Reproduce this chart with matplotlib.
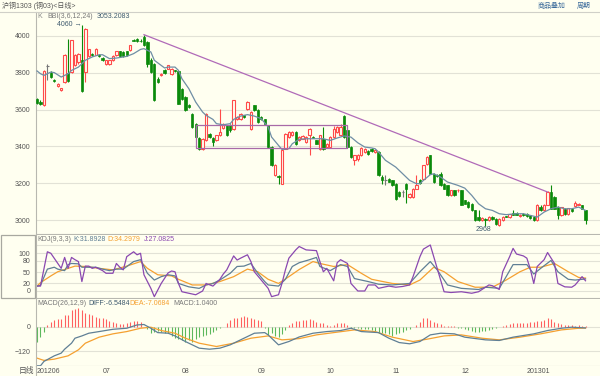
import matplotlib
matplotlib.use('Agg')
import matplotlib.pyplot as plt
from matplotlib.patches import Rectangle
import numpy as np

plt.rcParams['font.family'] = ['Liberation Sans', 'Noto Sans CJK SC', 'DejaVu Sans']

# ---- daily candles ----
opens = [3659, 3642, 3627, 3838, 3800, 3759, 3728, 3708, 3750, 3799,
         3804, 3840, 3858, 3868, 3804, 3891, 3900, 3898, 3898, 3880,
         3846, 3850, 3871, 3895, 3916, 3912, 3916, 3925, 3978, 3985,
         3975, 3995, 3967, 3868, 3849, 3768, 3790, 3813, 3822, 3795,
         3813, 3808, 3710, 3668, 3627, 3578, 3524, 3446, 3388, 3433,
         3469, 3446, 3433, 3460, 3500, 3514, 3518, 3496, 3547, 3551,
         3569, 3605, 3496, 3623, 3600, 3560, 3547, 3514, 3397, 3245,
         3242, 3198, 3388, 3451, 3460, 3478, 3433, 3442, 3424, 3460,
         3451, 3433, 3388, 3442, 3397, 3397, 3451, 3478, 3460, 3565,
         3487, 3397, 3325, 3330, 3352, 3370, 3378, 3386, 3370, 3370,
         3234, 3216, 3225, 3216, 3198, 3153, 3153, 3198, 3125, 3125,
         3171, 3220, 3225, 3306, 3352, 3252, 3243, 3252, 3198, 3189,
         3135, 3162, 3162, 3162, 3108, 3099, 3090, 3053, 3017, 2999,
         3008, 2999, 3017, 3008, 2975, 2999, 3022, 3017, 3040, 3038,
         3020, 3035, 3035, 3026, 3017, 2999, 3072, 3053, 3084, 3153,
         3125, 3071, 3030, 3062, 3035, 3062, 3077, 3085, 3080, 3053]
highs = [3665, 3650, 3815, 3848, 3810, 3765, 3745, 3720, 3900, 3985,
         3980, 3900, 3910, 4060, 4045, 3930, 3905, 3932, 3902, 3885,
         3870, 3872, 3895, 3920, 3920, 3918, 3920, 3952, 3982, 3990,
         3985, 4007, 3975, 3878, 3855, 3775, 3800, 3818, 3845, 3825,
         3815, 3812, 3715, 3672, 3632, 3582, 3528, 3450, 3446, 3582,
         3474, 3450, 3464, 3605, 3527, 3518, 3522, 3655, 3566, 3582,
         3573, 3645, 3592, 3627, 3605, 3564, 3550, 3518, 3400, 3305,
         3246, 3384, 3474, 3482, 3482, 3482, 3455, 3460, 3455, 3500,
         3455, 3437, 3464, 3505, 3420, 3455, 3510, 3510, 3520, 3572,
         3492, 3400, 3356, 3360, 3396, 3392, 3382, 3390, 3385, 3374,
         3243, 3243, 3230, 3220, 3202, 3158, 3162, 3202, 3148, 3175,
         3245, 3225, 3300, 3346, 3356, 3256, 3248, 3262, 3202, 3193,
         3166, 3166, 3170, 3166, 3112, 3103, 3094, 3056, 3053, 3015,
         3012, 3020, 3022, 3012, 3012, 3022, 3025, 3035, 3055, 3042,
         3032, 3040, 3040, 3030, 3022, 3090, 3080, 3090, 3158, 3192,
         3130, 3075, 3071, 3066, 3068, 3066, 3105, 3095, 3084, 3056]
lows = [3630, 3625, 3620, 3760, 3770, 3748, 3722, 3702, 3745, 3750,
        3800, 3835, 3850, 3695, 3750, 3885, 3890, 3895, 3885, 3865,
        3840, 3845, 3865, 3890, 3885, 3885, 3890, 3920, 3970, 3965,
        3965, 3945, 3830, 3800, 3645, 3745, 3785, 3795, 3818, 3790,
        3805, 3628, 3650, 3590, 3610, 3500, 3445, 3382, 3382, 3428,
        3446, 3405, 3428, 3455, 3495, 3455, 3480, 3490, 3542, 3546,
        3555, 3600, 3490, 3590, 3528, 3542, 3518, 3392, 3292, 3240,
        3198, 3195, 3385, 3446, 3455, 3410, 3428, 3438, 3420, 3352,
        3445, 3412, 3383, 3383, 3392, 3392, 3446, 3474, 3455, 3446,
        3392, 3338, 3300, 3320, 3348, 3365, 3355, 3370, 3365, 3240,
        3198, 3190, 3205, 3185, 3110, 3125, 3125, 3095, 3120, 3120,
        3168, 3198, 3220, 3300, 3248, 3200, 3234, 3185, 3170, 3130,
        3130, 3130, 3155, 3080, 3086, 3068, 3050, 2995, 2995, 2995,
        2968, 2995, 2999, 2972, 2970, 2995, 3015, 3012, 3026, 3026,
        3016, 3022, 3018, 3008, 2995, 2995, 3050, 3048, 3080, 3058,
        3060, 3008, 3025, 3030, 3030, 3042, 3073, 3082, 3058, 2981]
closes = [3638, 3632, 3808, 3838, 3777, 3753, 3740, 3717, 3895, 3755,
          3976, 3895, 3904, 3699, 4040, 3927, 3895, 3927, 3890, 3870,
          3868, 3868, 3891, 3916, 3889, 3889, 3895, 3949, 3975, 3971,
          3970, 3950, 3849, 3804, 3650, 3750, 3795, 3800, 3840, 3822,
          3809, 3632, 3656, 3596, 3614, 3505, 3451, 3388, 3442, 3578,
          3451, 3424, 3460, 3478, 3523, 3460, 3487, 3650, 3562, 3578,
          3560, 3641, 3587, 3596, 3533, 3547, 3523, 3397, 3297, 3300,
          3236, 3379, 3469, 3478, 3478, 3415, 3451, 3456, 3451, 3496,
          3448, 3415, 3460, 3388, 3415, 3451, 3496, 3505, 3505, 3451,
          3397, 3343, 3352, 3356, 3392, 3388, 3360, 3375, 3382, 3243,
          3216, 3216, 3207, 3189, 3116, 3130, 3153, 3171, 3144, 3171,
          3189, 3202, 3297, 3342, 3252, 3207, 3238, 3189, 3171, 3135,
          3162, 3135, 3165, 3084, 3090, 3072, 3053, 2999, 2999, 3011,
          2999, 3017, 3005, 2978, 3008, 3017, 3019, 3035, 3030, 3030,
          3028, 3026, 3022, 3012, 2999, 3084, 3053, 3084, 3153, 3062,
          3062, 3030, 3071, 3035, 3066, 3049, 3095, 3090, 3062, 2999]

# BBI line
bbi_x = [0, 1, 2, 4, 5, 7, 9, 10, 12, 13, 14, 16, 18, 19, 21, 23, 26, 28, 30, 31, 33,
         34, 36, 37, 38, 40, 41, 42, 44, 46, 48, 49, 51, 52, 54, 56, 57, 59, 61, 63, 65,
         67, 68, 70, 71, 73, 74, 76, 78, 80, 83, 85, 87, 89, 91, 93, 95, 97, 98, 99, 101,
         104, 106, 108, 110, 111, 112, 114, 115, 117, 119, 122, 124, 126, 128, 130, 132,
         134, 136, 139, 141, 143, 145, 147, 149, 151, 153, 155, 157, 159]
bbi_y = [3810, 3795, 3786, 3804, 3801, 3777, 3795, 3813, 3831, 3849, 3868, 3886, 3898,
         3898, 3877, 3880, 3889, 3904, 3927, 3931, 3913, 3868, 3840, 3826, 3831, 3831,
         3813, 3768, 3714, 3641, 3587, 3569, 3547, 3524, 3518, 3524, 3547, 3565, 3573,
         3565, 3551, 3506, 3451, 3406, 3384, 3388, 3415, 3439, 3442, 3442, 3442, 3433,
         3446, 3457, 3451, 3420, 3397, 3392, 3388, 3370, 3325, 3288, 3252, 3216, 3198,
         3198, 3216, 3247, 3252, 3234, 3207, 3189, 3174, 3135, 3089, 3062, 3053, 3035,
         3030, 3035, 3035, 3026, 3017, 3044, 3062, 3071, 3062, 3062, 3071, 3053]

# KDJ(9,3,3)
k_x = [0, 1, 3, 5, 6, 8, 9, 10, 12, 13, 15, 17, 19, 21, 23, 25, 28, 30, 32, 34, 36, 38,
       40, 41, 44, 47, 49, 51, 53, 56, 58, 60, 62, 64, 66, 67, 70, 72, 74, 76, 79, 81, 82,
       85, 88, 90, 92, 96, 99, 103, 108, 111, 114, 116, 119, 123, 128, 130, 134, 136,
       138, 142, 144, 146, 149, 151, 154, 156, 159]
k_y = [13, 15, 58, 63, 58, 54, 70, 73, 72, 63, 63, 63, 58, 54, 58, 58, 78, 83, 47, 29,
       38, 43, 40, 20, 11, 7, 16, 20, 29, 47, 65, 66, 73, 47, 25, 16, 13, 31, 65, 75, 83,
       89, 65, 54, 70, 65, 33, 25, 18, 16, 20, 51, 78, 56, 16, 7, 4, 10, 7, 38, 70, 70,
       45, 60, 81, 51, 31, 29, 31.89]
d_x = [0, 1, 4, 6, 9, 11, 14, 18, 22, 26, 30, 32, 35, 39, 41, 45, 49, 53, 57, 61, 64,
       67, 70, 73, 76, 80, 82, 86, 90, 94, 97, 103, 108, 111, 115, 118, 122, 127, 132,
       136, 140, 143, 146, 150, 154, 157, 159]
d_y = [13, 22, 40, 51, 60, 66, 65, 60, 56, 66, 78, 60, 43, 40, 31, 16, 16, 25, 38, 58,
       51, 31, 20, 38, 57, 78, 73, 65, 70, 47, 31, 20, 16, 29, 63, 51, 25, 10, 10, 29,
       51, 63, 63, 73, 51, 36, 34.30]
j_x = [0, 1, 3, 4, 7, 8, 9, 10, 11, 12, 13, 14, 15, 16, 17, 19, 20, 22, 23, 24, 25, 26,
       28, 29, 30, 31, 33, 34, 36, 38, 39, 40, 41, 42, 44, 46, 48, 49, 51, 53, 54, 55,
       57, 58, 59, 61, 62, 63, 65, 67, 68, 70, 71, 72, 73, 75, 76, 78, 81, 82, 83, 84,
       86, 87, 88, 90, 91, 93, 95, 96, 98, 99, 101, 102, 104, 106, 108, 109, 111, 112,
       114, 115, 117, 118, 120, 123, 126, 128, 130, 131, 132, 134, 135, 137, 138, 139,
       141, 142, 143, 144, 145, 147, 148, 150, 151, 153, 155, 156, 158, 159]
j_y = [13, 13, 104, 100, 60, 89, 60, 89, 83, 78, 25, 66, 66, 60, 63, 54, 47, 47, 73, 63,
       56, 91, 104, 96, 100, 43, 7, -15, 20, 48, 53, 51, 20, -2, -6, -10, 0, 20, 13, 31,
       45, 56, 93, 82, 87, 96, 78, 51, 29, 7, -15, -10, 20, 56, 87, 109, 118, 109, 107,
       78, 51, 60, 27, 75, 83, 73, 20, 0, 0, 16, 16, 7, 11, 13, 10, 12, 16, 38, 91, 111,
       122, 91, 29, -2, -4, -2, -6, -2, 10, 16, 14, 4, 51, 91, 113, 98, 93, 87, 58, 20,
       65, 83, 102, 73, 20, 11, 10, 16, 38, 27.08]

# MACD(26,12,9)
diff_x = [0, 1, 2, 5, 7, 8, 10, 11, 13, 15, 18, 22, 26, 29, 31, 33, 35, 38, 40, 43, 47,
          50, 53, 56, 59, 63, 66, 67, 70, 73, 76, 80, 84, 88, 91, 94, 99, 102, 105, 108,
          111, 114, 117, 121, 124, 130, 134, 138, 144, 148, 152, 155, 159]
diff_y = [-189, -189, -168, -141, -128, -109, -80, -56, -45, -32, -24, -13, -8, 8, 10,
          -8, -29, -32, -45, -72, -104, -109, -104, -88, -64, -32, -29, -40, -88, -72,
          -50, -32, -24, -19, -8, -24, -29, -56, -77, -83, -72, -40, -32, -35, -51, -64,
          -67, -51, -35, -19, -8, -3, -6.55]
dea_x = [0, 2, 5, 9, 12, 14, 18, 22, 26, 30, 33, 36, 40, 43, 47, 52, 57, 62, 67, 71, 76,
         81, 86, 92, 98, 103, 109, 113, 118, 123, 129, 134, 140, 146, 152, 157, 159]
dea_y = [-152, -163, -157, -141, -112, -80, -51, -35, -24, -8, -3, -19, -32, -56, -80,
         -96, -80, -56, -45, -64, -58, -40, -29, -16, -24, -51, -72, -61, -45, -40, -56,
         -64, -51, -35, -16, -8, -7.07]
macd_hist = [-72, -48, -24, 8, 24, 32, 35, 35, 56, 56, 80, 83, 88, 80, 67, 61, 56, 45,
             40, 40, 35, 29, 24, 19, 13, 13, 16, 24, 29, 29, 24, 0, -13, -32, -24, -19,
             -24, -29, -29, -45, -56, -61, -67, -72, -64, -72, -61, -48, -45, -40, -35,
             -24, -16, -8, -3, 16, 32, 40, 40, 45, 51, 48, 40, 35, 32, 29, -8, -40, -32,
             -45, -48, -35, -16, 8, 19, 29,
             29, 32, 32, 35, 32, 24, 19, 16, 8, 3, 8, 19, 19, 19, 8, -8, -8, -8, -13,
             -13, -13, -16, -24, -29, -32, -32, -35, -45, -35, -32, -24, -16, -13, -3, 8,
             24, 40, 40, 32, 24, 19, 13, 3, 1, 1, 1, -5, -8, -13, -16, -19, -24, -24, -19,
             -19, -16, -13, -8, -3, 3, 8, 13, 16, 19, 16, 19, 19, 24, 24, 29, 29, 32, 40,
             35, 24, 16, 13, 8, 8, 8, 3, 6, 3, 1.04]

month_labels = ['201206', '07', '08', '09', '10', '11', '12', '201301']
month_pos = [0, 19, 42, 64, 84, 103, 123, 142]

# trend line and consolidation box
trend_pts = ([31, 148], [4007, 3153])
box_x = (46, 90)
box_y = (3390, 3515)

BG = '#fffff0'
GRID = '#e2e2d6'
TXT = '#555555'
UP = '#ff4a4a'
DOWN = '#0a8a0a'
BLUE = '#5f7f95'
ORANGE = '#f5a030'
PURPLE = '#8a48b0'
FS = 5.0

W, H = 600, 376
fig = plt.figure(figsize=(6, 3.76), dpi=100, facecolor=BG)


def add_ax(top, bottom, left=36, right=600):
    ax = fig.add_axes([left / W, 1 - bottom / H, (right - left) / W, (bottom - top) / H])
    ax.set_facecolor(BG)
    for s in ['top', 'right']:
        ax.spines[s].set_visible(False)
    for s in ['left', 'bottom']:
        ax.spines[s].set_color('#b8b8b0')
        ax.spines[s].set_linewidth(0.8)
    ax.tick_params(axis='y', length=0, labelsize=FS, labelcolor=TXT, pad=4)
    ax.tick_params(axis='x', length=0, labelbottom=False)
    ax.set_xlim(-0.3, 163.2)
    return ax


x = np.arange(len(closes))
o = np.array(opens, float); c = np.array(closes, float)
h = np.array(highs, float); l = np.array(lows, float)

# ---------- main price panel ----------
ax = add_ax(12, 234)
ax.set_ylim(2925, 4130)
ax.set_yticks([3000, 3200, 3400, 3600, 3800, 4000])
ax.grid(axis='y', color=GRID, linewidth=0.8)
ax.set_axisbelow(True)

up = c > o
dn = c < o
eq = c == o
bw = 0.68
top = np.maximum(o, c); bot = np.minimum(o, c)
# wicks
ax.vlines(x[dn], l[dn], h[dn], color=DOWN, linewidth=0.8, zorder=2)
ax.vlines(x[up], top[up], h[up], color=UP, linewidth=0.8, zorder=2)
ax.vlines(x[up], l[up], bot[up], color=UP, linewidth=0.8, zorder=2)
ax.vlines(x[eq], l[eq], h[eq], color='#777777', linewidth=0.8, zorder=2)
ax.hlines(c[eq], x[eq] - bw / 2, x[eq] + bw / 2, color='#777777', linewidth=0.8, zorder=2)
# bodies
ax.bar(x[dn], (o - c)[dn], bottom=c[dn], width=bw, color=DOWN, edgecolor=DOWN,
       linewidth=0.5, zorder=3)
ax.bar(x[up], np.maximum((c - o)[up], 3), bottom=o[up], width=bw, facecolor=BG,
       edgecolor=UP, linewidth=0.8, zorder=3)

ax.plot(bbi_x, bbi_y, color='#6f8ea5', linewidth=0.9, zorder=4)
ax.plot(trend_pts[0], trend_pts[1], color='#b06ab8', linewidth=0.9, zorder=4)
ax.add_patch(Rectangle((box_x[0], box_y[0]), box_x[1] - box_x[0], box_y[1] - box_y[0],
                       fill=False, edgecolor='#a86aa8', linewidth=0.9, zorder=4))

ax.text(0.0, 4103, 'K', fontsize=FS, color='#888888', va='center')
ax.text(2.9, 4103, 'BBI(3,6,12,24)', fontsize=FS, color='#777777', va='center')
ax.text(17.2, 4103, '3053.2083', fontsize=FS, color='#3e5a6e', va='center')
ax.text(12.9, 4062, '4060 →', fontsize=FS, color='#3e5a6e', va='center', ha='right')
ax.text(129.5, 2952, '2968', fontsize=FS, color='#3e5a6e', va='center', ha='center')

# ---------- KDJ panel ----------
ax2 = add_ax(235, 298)
ax2.set_ylim(-18.6, 148.5)
ax2.set_yticks([0, 20, 50, 80, 100])
ax2.grid(axis='y', color=GRID, linewidth=0.8)
ax2.axhline(122, color=GRID, linewidth=0.8)
ax2.plot(d_x, d_y, color=ORANGE, linewidth=0.9)
ax2.plot(k_x, k_y, color=BLUE, linewidth=0.9)
ax2.plot(j_x, j_y, color=PURPLE, linewidth=0.9)
ax2.text(0.0, 137, 'KDJ(9,3,3)', fontsize=FS, color='#777777', va='center')
ax2.text(10.4, 137, 'K:31.8928', fontsize=FS, color=BLUE, va='center')
ax2.text(20.4, 137, 'D:34.2979', fontsize=FS, color=ORANGE, va='center')
ax2.text(31.0, 137, 'J:27.0825', fontsize=FS, color=PURPLE, va='center')
# framed box of the indicator axis
fig.add_artist(Rectangle((1 / W, 1 - 298 / H), 34 / W, 63 / H, transform=fig.transFigure,
                         fill=False, edgecolor='#a8a8a0', linewidth=0.9))

# ---------- MACD panel ----------
ax3 = add_ax(299, 366)
ax3.set_ylim(-190, 133)
ax3.set_yticks([-120, 0])
ax3.grid(axis='y', color=GRID, linewidth=0.8)
hist = np.array(macd_hist, float)
ax3.vlines(x[hist >= 0], 0, hist[hist >= 0], color='#ff6060', linewidth=0.8)
ax3.vlines(x[hist < 0], 0, hist[hist < 0], color='#5cb85c', linewidth=0.8)
ax3.plot(dea_x, dea_y, color=ORANGE, linewidth=0.9)
ax3.plot(diff_x, diff_y, color=BLUE, linewidth=0.9)
ax3.text(0.0, 110, 'MACD(26,12,9)', fontsize=FS, color='#777777', va='center')
ax3.text(15.0, 110, 'DIFF:-6.5484', fontsize=FS, color='#3e5a6e', va='center')
ax3.text(26.9, 110, 'DEA:-7.0684', fontsize=FS, color=ORANGE, va='center')
ax3.text(39.4, 110, 'MACD:1.0400', fontsize=FS, color='#777777', va='center')

# ---------- date strip ----------
ax4 = add_ax(366, 376)
ax4.set_ylim(0, 1)
ax4.set_yticks([])
ax4.spines['bottom'].set_visible(False)
for lab, pos in zip(month_labels, month_pos):
    ax4.text(pos, 0.45, lab, fontsize=FS, color=TXT, va='center', ha='left')
fig.text(34 / W, 1 - 371 / H, '日线', fontsize=5.6, color=TXT, va='center', ha='right')

# ---------- header ----------
fig.add_artist(plt.Line2D([0, 1], [1 - 11.5 / H] * 2, color='#d0d0c8', linewidth=0.8))
fig.text(2 / W, 1 - 6 / H, '沪铜1303 (铜03)<日线>', fontsize=FS, color='#555555', va='center')
fig.text(538 / W, 1 - 6 / H, '商品叠加', fontsize=FS, color='#3a6a9a', va='center')
fig.text(577 / W, 1 - 6 / H, '周期', fontsize=FS, color='#3a6a9a', va='center')

fig.savefig('out.png', dpi=100, facecolor=BG)
